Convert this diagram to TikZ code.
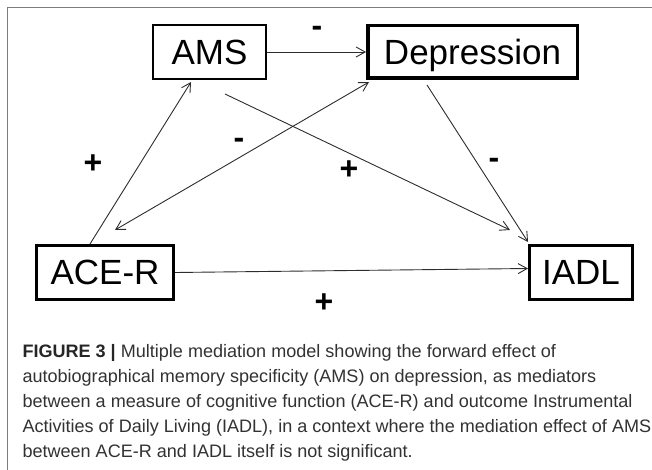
\documentclass[tikz,border=0pt]{standalone}
\usepackage{fontspec}
\setmainfont{Liberation Sans}
\usetikzlibrary{arrows.meta}

\definecolor{capgray}{RGB}{50,50,50}
\definecolor{framegray}{RGB}{125,125,125}
\definecolor{arrgray}{RGB}{45,45,45}

\tikzset{every picture/.style={line width=1pt}}
\tikzset{
  varbox/.style={draw, inner sep=0pt, text depth=0pt, font=\fontsize{35}{40}\selectfont},
  signlbl/.style={anchor=base, inner sep=0pt, font=\bfseries\fontsize{32}{36}\selectfont},
  patharr/.style={draw=arrgray, line width=0.9pt, -{Straight Barb[length=9pt,width=10pt]}},
  capline/.style={anchor=base west, inner sep=0pt, text=capgray, font=\fontsize{18.05}{25}\selectfont}
}

\begin{document}
\begin{tikzpicture}[x=1pt,y=1pt,yscale=-1,xscale=1]
\useasboundingbox (0,0) rectangle (652,470);

%Frame
\draw [framegray]  (7.5,470) -- (7.5,7.5) -- (652,7.5) ;

%Shape: Boxes
\draw (209.5,52) node [varbox, line width=2pt, minimum width=113pt, minimum height=54pt] (ams) {AMS};
\draw (472.5,52) node [varbox, line width=3.5pt, minimum width=209.5pt, minimum height=52.5pt] (dep) {Depression};
\draw (105,272.5) node [varbox, line width=3pt, minimum width=137pt, minimum height=54pt] (ace) {ACE-R};
\draw (581,272.5) node [varbox, line width=3pt, minimum width=103pt, minimum height=54pt] (iadl) {IADL};

%Straight Lines
\draw [patharr] (ams.east) -- (dep.west) ;
\draw [patharr] ([xshift=-15pt]ace.north) -- ([xshift=-18.5pt,yshift=2pt]ams.south) ;
\draw [patharr, <->, >={Straight Barb[length=9pt,width=10pt]}] ([xshift=10pt,yshift=-14pt]ace.north) -- ([xshift=3pt,yshift=2pt]dep.south west) ;
\draw [patharr] ([xshift=15.5pt,yshift=14pt]ams.south) -- ([xshift=-18pt,yshift=-14pt]iadl.north west) ;
\draw [patharr] ([xshift=-45.5pt,yshift=5pt]dep.south) -- ([yshift=-2pt]iadl.north west) ;
\draw [patharr] (ace.east) -- ([yshift=-4pt]iadl.west) ;

% Text Node
\draw (317,37) node [signlbl] (s1) {-};
\draw (93,174) node [signlbl] (s2) {+};
\draw (239,149) node [signlbl] (s3) {-};
\draw (349,180) node [signlbl] (s4) {+};
\draw (494,169) node [signlbl] (s5) {-};
\draw (324,312) node [signlbl] (s6) {+};

% Caption
\draw (22,357) node [capline] (cap1) {\textbf{\color{black!85}FIGURE 3 |} Multiple mediation model showing the forward effect of};
\draw (22,382) node [capline] (cap2) {autobiographical memory specificity (AMS) on depression, as mediators};
\draw (22,407) node [capline] (cap3) {between a measure of cognitive function (ACE-R) and outcome Instrumental};
\draw (22,432) node [capline] (cap4) {Activities of Daily Living (IADL), in a context where the mediation effect of AMS};
\draw (22,457) node [capline] (cap5) {between ACE-R and IADL itself is not significant.};

\end{tikzpicture}
\end{document}
